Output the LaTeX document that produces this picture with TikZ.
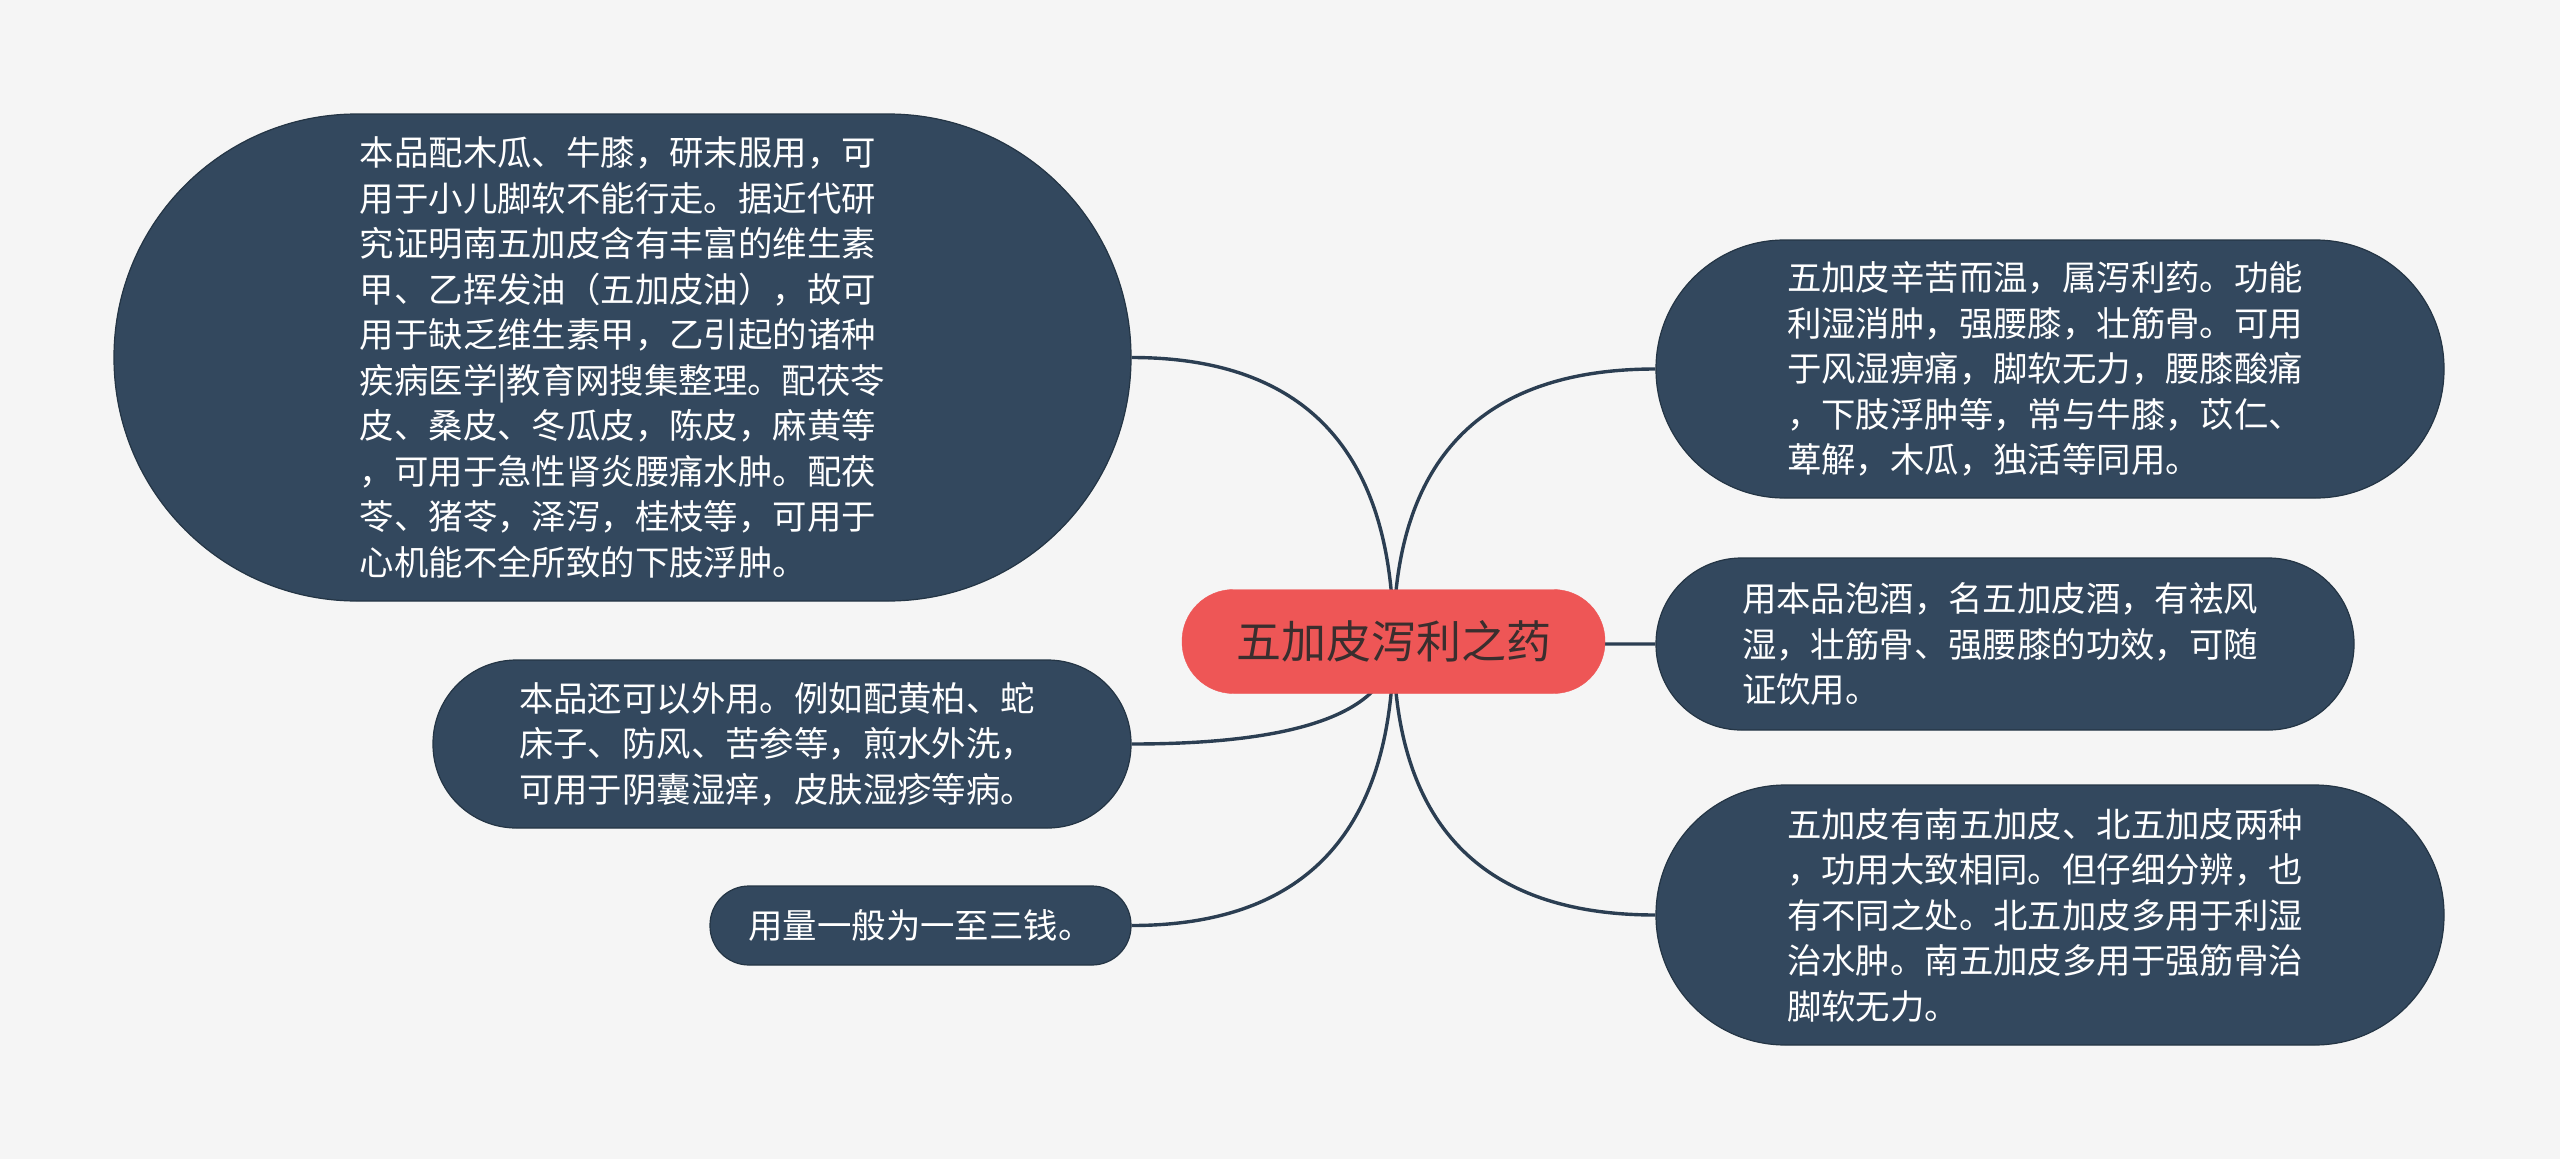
\documentclass[tikz,border=0pt]{standalone}
\usepackage{fontspec}
\setmainfont{Noto Sans CJK SC}
\usetikzlibrary{calc}
\definecolor{bgc}{HTML}{F5F5F5}
\definecolor{nodec}{HTML}{33485E}
\definecolor{nodeb}{HTML}{243545}
\definecolor{linkc}{HTML}{2B3E52}
\definecolor{rootc}{HTML}{EE5656}
\definecolor{roott}{HTML}{3A2E2E}
\pgfdeclarelayer{bglayer}
\pgfdeclarelayer{edges}
\pgfsetlayers{bglayer,edges,main}
\newcommand{\qlink}[2]{%
  \coordinate (k#1) at (c.center |- #1.#2);
  \draw[link] (c.center) .. controls ($(c.center)!0.6667!(k#1)$) and ($(#1.#2)!0.6667!(k#1)$) .. (#1.#2);}
\newcommand{\padr}{\hspace*{10pt}}
\tikzset{
  topic/.style={fill=nodec, draw=nodeb, line width=1.2pt, text=white, align=left,
    inner sep=0pt, font={\fontsize{34.4pt}{45.5pt}\selectfont}},
  link/.style={draw=linkc, line width=3.4pt},
}
\begin{document}
\begin{tikzpicture}[x=1pt,y=-1pt]
\begin{pgfonlayer}{bglayer}
\fill[bgc] (0,0) rectangle (2560,1159);
\end{pgfonlayer}
\useasboundingbox (0,0) rectangle (2560,1159);

\node[fill=rootc, draw=rootc, text=roott, inner sep=0pt, minimum width=423pt, minimum height=104pt,
  rounded corners=51.5pt, font={\fontsize{45pt}{54pt}\selectfont}] (c) at (1393.5,641.5) {五加皮泻利之药};

\node[topic, minimum width=1017pt, minimum height=487pt, rounded corners=243pt] (tl) at (622.5,357.5) {%
本品配木瓜、牛膝，研末服用，可\\%
用于小儿脚软不能行走。据近代研\\%
究证明南五加皮含有丰富的维生素\\%
甲、乙挥发油（五加皮油），故可\\%
用于缺乏维生素甲，乙引起的诸种\\%
疾病医学|教育网搜集整理。配茯苓\\%
皮、桑皮、冬瓜皮，陈皮，麻黄等\\%
，可用于急性肾炎腰痛水肿。配茯\\%
苓、猪苓，泽泻，桂枝等，可用于\\%
心机能不全所致的下肢浮肿。};

\node[topic, minimum width=698pt, minimum height=168pt, rounded corners=83.5pt] (lm) at (782,744) {%
本品还可以外用。例如配黄柏、蛇\padr\\%
床子、防风、苦参等，煎水外洗，\\%
可用于阴囊湿痒，皮肤湿疹等病。};

\node[topic, minimum width=421pt, minimum height=79pt, rounded corners=39pt] (bl) at (920.5,925.5) {%
用量一般为一至三钱。};

\node[topic, minimum width=788pt, minimum height=258pt, rounded corners=128.5pt] (tr) at (2050,369) {%
五加皮辛苦而温，属泻利药。功能\padr\\%
利湿消肿，强腰膝，壮筋骨。可用\\%
于风湿痹痛，脚软无力，腰膝酸痛\\%
，下肢浮肿等，常与牛膝，苡仁、\\%
萆解，木瓜，独活等同用。};

\node[topic, minimum width=698pt, minimum height=172pt, rounded corners=85.5pt] (mr) at (2005,644) {%
用本品泡酒，名五加皮酒，有祛风\padr\\%
湿，壮筋骨、强腰膝的功效，可随\\%
证饮用。};

\node[topic, minimum width=788pt, minimum height=260pt, rounded corners=129.5pt] (br) at (2050,915) {%
五加皮有南五加皮、北五加皮两种\padr\\%
，功用大致相同。但仔细分辨，也\\%
有不同之处。北五加皮多用于利湿\\%
治水肿。南五加皮多用于强筋骨治\\%
脚软无力。};

\begin{pgfonlayer}{edges}
\qlink{tl}{east}
\qlink{lm}{east}
\qlink{bl}{east}
\qlink{tr}{west}
\qlink{mr}{west}
\qlink{br}{west}
\end{pgfonlayer}
\end{tikzpicture}
\end{document}
